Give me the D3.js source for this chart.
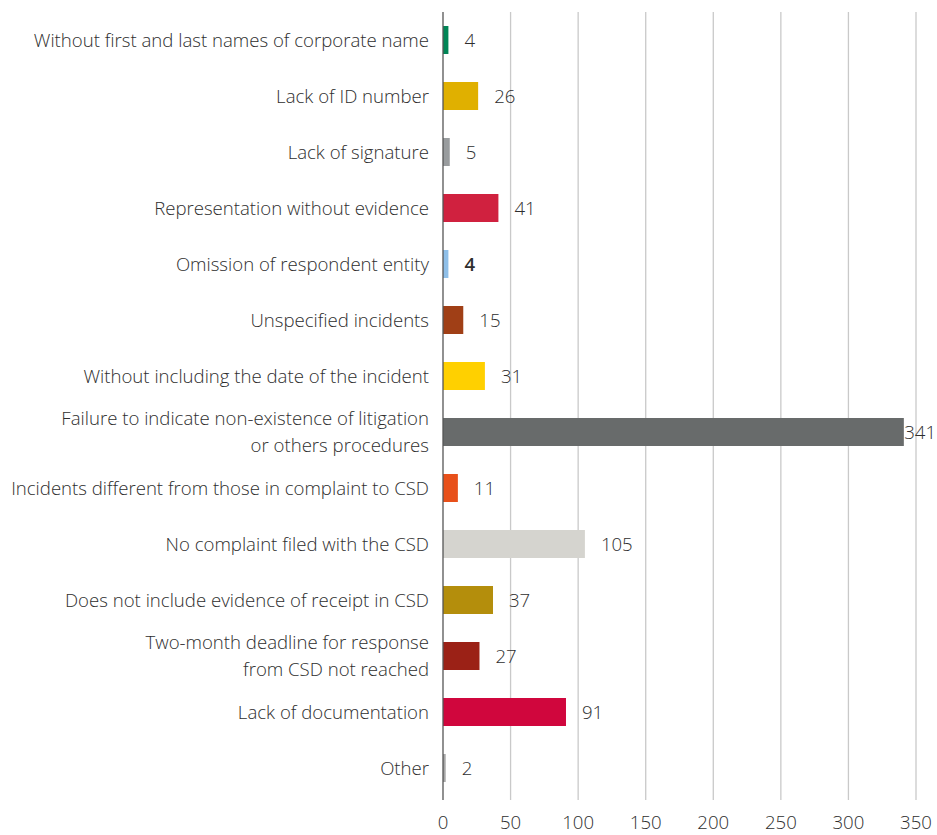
<!DOCTYPE html>
<html>
<head>
<meta charset="utf-8">
<script src="https://cdn.jsdelivr.net/npm/d3@7"></script>
<style>
  html, body { margin: 0; padding: 0; background: #fff; }
  svg text { font-family: "Open Sans", "Noto Sans", sans-serif; font-weight: 300; fill: #2e2e2e; }
</style>
</head>
<body>
<svg id="chart" width="937" height="835"></svg>
<script>
// Reasons for rejection and number of cases
const categories = [
  ["Without first and last names of corporate name"],
  ["Lack of ID number"],
  ["Lack of signature"],
  ["Representation without evidence"],
  ["Omission of respondent entity"],
  ["Unspecified incidents"],
  ["Without including the date of the incident"],
  ["Failure to indicate non-existence of litigation", "or others procedures"],
  ["Incidents different from those in complaint to CSD"],
  ["No complaint filed with the CSD"],
  ["Does not include evidence of receipt in CSD"],
  ["Two-month deadline for response", "from CSD not reached"],
  ["Lack of documentation"],
  ["Other"]
];
const values = [4, 26, 5, 41, 4, 15, 31, 341, 11, 105, 37, 27, 91, 2];
const barColors = [
  "#008556", "#E0B000", "#999C9E", "#D0213F", "#8FBFE8", "#A03F16", "#FFD000",
  "#686B6B", "#E8501A", "#D5D4CF", "#B48E0C", "#9B2116", "#D0063D", "#A8A8A8"
];
const xTicks = [0, 50, 100, 150, 200, 250, 300, 350];

const width = 937, height = 835;
const svg = d3.select("#chart");

const x = d3.scaleLinear().domain([0, 350]).range([443, 916]);
const y = d3.scaleBand().domain(d3.range(categories.length)).range([12, 796]).paddingInner(0.5).paddingOuter(0.25);

// vertical gridlines
svg.append("g").selectAll("line").data(xTicks.slice(1)).join("line")
  .attr("x1", d => x(d)).attr("x2", d => x(d))
  .attr("y1", 12).attr("y2", 800)
  .attr("stroke", "#c9c9c9").attr("stroke-width", 1.3);

// bars
svg.append("g").selectAll("rect").data(values).join("rect")
  .attr("x", x(0))
  .attr("y", (d, i) => y(i))
  .attr("width", d => x(d) - x(0))
  .attr("height", y.bandwidth())
  .attr("fill", (d, i) => barColors[i]);

// category axis line
svg.append("line")
  .attr("x1", x(0)).attr("x2", x(0))
  .attr("y1", 12).attr("y2", 800)
  .attr("stroke", "#555").attr("stroke-width", 1.3);

// category labels
const fs = 18.6;
const lab = svg.append("g").selectAll("text").data(categories).join("text")
  .attr("text-anchor", "end")
  .attr("x", x(0) - 14)
  .attr("y", (d, i) => y(i) + y.bandwidth() / 2)
  .style("font-size", fs + "px");
lab.each(function(lines) {
  const t = d3.select(this);
  const n = lines.length;
  lines.forEach((s, k) => {
    t.append("tspan")
      .attr("x", x(0) - 14)
      .attr("dy", k === 0 ? ((-(n - 1) / 2) * 1.45 + 0.35) + "em" : "1.45em")
      .text(s);
  });
});

// value labels
svg.append("g").selectAll("text").data(values).join("text")
  .attr("x", d => x(d) + 16)
  .attr("y", (d, i) => y(i) + y.bandwidth() / 2)
  .attr("dy", "0.35em")
  .style("font-size", fs + "px")
  .style("font-weight", (d, i) => categories[i][0] === "Omission of respondent entity" ? 600 : 300)
  .text(d => d)
  .each(function() {
    const w = this.getComputedTextLength();
    const cur = +this.getAttribute("x");
    if (cur + w > width - 1) this.setAttribute("x", width - 1 - w);
  });

// value axis tick labels
svg.append("g").selectAll("text").data(xTicks).join("text")
  .attr("x", d => x(d))
  .attr("y", 822)
  .attr("dy", "0.35em")
  .attr("text-anchor", "middle")
  .style("font-size", fs + "px")
  .text(d => d);
</script>
</body>
</html>
